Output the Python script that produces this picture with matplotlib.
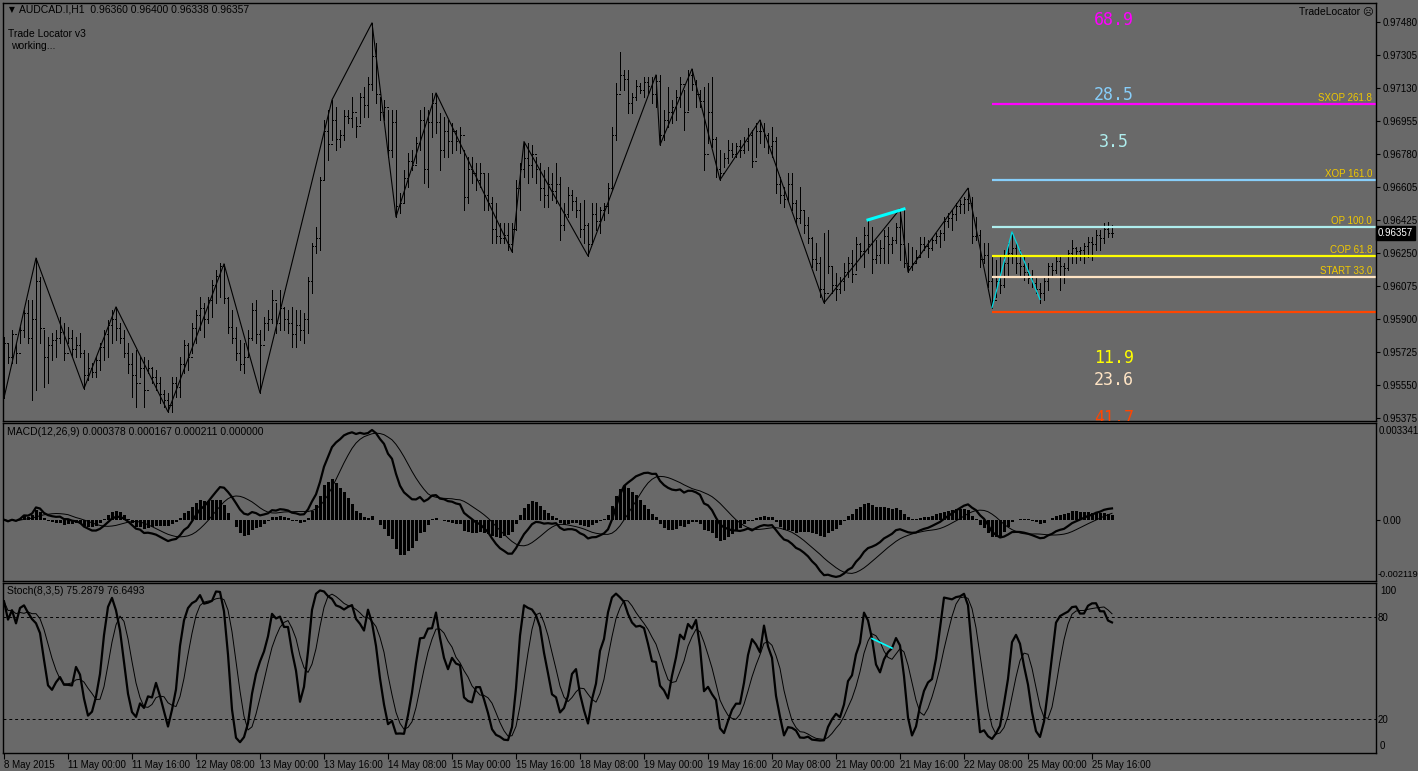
import matplotlib
matplotlib.use("Agg")
import matplotlib.pyplot as plt
import matplotlib.transforms as mtransforms
import numpy as np
import pandas as pd

# AUDCAD.I H1 bars from 8 May 2015 08:00, prices in points (0.00001) above 0.95000
HIGH_PTS = [
    805, 773, 842, 773, 858, 949, 1002, 1002, 1225, 1124,
    842, 805, 826, 842, 911, 879, 858, 842, 805, 826,
    736, 720, 666, 698, 773, 842, 895, 949, 965, 879,
    842, 773, 720, 736, 698, 698, 682, 645, 629, 592,
    523, 507, 592, 592, 698, 789, 773, 879, 949, 1018,
    986, 1018, 1108, 1162, 1199, 1194, 1018, 949, 858, 789,
    773, 842, 986, 1002, 842, 911, 949, 1055, 986, 1055,
    965, 949, 965, 949, 949, 933, 1124, 1305, 1390, 1657,
    1960, 2013, 2067, 2029, 1907, 2013, 2013, 2083, 1976, 2104,
    2136, 2189, 2477, 2370, 2083, 2067, 2013, 2013, 2013, 1571,
    1694, 1784, 1800, 1870, 2013, 2029, 2013, 2104, 2104, 1997,
    1976, 1960, 1944, 1907, 1923, 1800, 1763, 1763, 1731, 1731,
    1678, 1678, 1550, 1518, 1412, 1412, 1412, 1412, 1641, 1731,
    1845, 1838, 1827, 1763, 1731, 1694, 1710, 1678, 1731, 1657,
    1518, 1603, 1587, 1550, 1518, 1534, 1412, 1518, 1518, 1497,
    1518, 1625, 1923, 2157, 2322, 2226, 2226, 2104, 2173, 2157,
    2189, 2189, 2189, 2200, 2200, 2013, 2136, 2067, 2120, 2189,
    2120, 2226, 2232, 2173, 2120, 2136, 2157, 2189, 1870, 1800,
    1784, 1854, 1838, 1838, 1854, 1870, 1918, 1907, 1944, 1960,
    1944, 1891, 1923, 1870, 1657, 1603, 1678, 1678, 1534, 1603,
    1481, 1444, 1337, 1305, 1231, 1359, 1374, 1177, 1146, 1124,
    1199, 1231, 1268, 1337, 1305, 1390, 1428, 1390, 1321, 1321,
    1374, 1390, 1337, 1412, 1486, 1486, 1305, 1284, 1268, 1337,
    1337, 1321, 1337, 1359, 1374, 1444, 1465, 1481, 1518, 1534,
    1550, 1597, 1550, 1444, 1374, 1305, 1305, 1231, 1215, 1231,
    1268, 1305, 1364, 1305, 1268, 1231, 1199, 1162, 1124, 1092,
    1124, 1199, 1199, 1231, 1231, 1199, 1268, 1321, 1284, 1284,
    1305, 1337, 1337, 1374, 1374, 1412, 1418, 1400,
]
LOW_PTS = [
    480, 666, 666, 666, 773, 805, 773, 469, 523, 773,
    539, 560, 682, 698, 773, 682, 773, 698, 698, 698,
    530, 576, 592, 592, 629, 682, 698, 773, 789, 773,
    698, 613, 485, 432, 592, 432, 613, 560, 523, 453,
    432, 406, 406, 485, 485, 613, 629, 720, 773, 842,
    805, 879, 911, 986, 1018, 986, 826, 773, 682, 629,
    613, 698, 789, 773, 507, 789, 842, 879, 826, 842,
    842, 826, 752, 752, 789, 773, 826, 1039, 1252, 1268,
    1641, 1747, 1854, 1800, 1816, 1854, 1944, 1923, 1870, 1944,
    1976, 1976, 2120, 2051, 1960, 1960, 1763, 1763, 1444, 1465,
    1518, 1603, 1694, 1731, 1800, 1625, 1603, 1870, 1891, 1694,
    1763, 1763, 1784, 1800, 1784, 1481, 1518, 1625, 1587, 1603,
    1481, 1481, 1305, 1305, 1305, 1305, 1268, 1258, 1374, 1481,
    1657, 1625, 1657, 1625, 1534, 1497, 1497, 1534, 1518, 1321,
    1374, 1444, 1481, 1444, 1337, 1305, 1236, 1305, 1374, 1359,
    1428, 1465, 1587, 1854, 2120, 2120, 1997, 1997, 2067, 2104,
    2083, 2104, 2051, 2029, 1827, 1854, 1923, 1944, 1960, 2029,
    1907, 2013, 2120, 2029, 2029, 1694, 1838, 1816, 1657, 1641,
    1710, 1731, 1763, 1763, 1763, 1784, 1800, 1710, 1763, 1838,
    1816, 1784, 1763, 1571, 1518, 1497, 1534, 1481, 1412, 1412,
    1359, 1305, 1177, 1162, 1018, 986, 1146, 1039, 1002, 1039,
    1055, 1124, 1097, 1162, 1231, 1177, 1252, 1146, 1199, 1199,
    1199, 1199, 1252, 1305, 1215, 1177, 1151, 1162, 1199, 1231,
    1268, 1231, 1268, 1305, 1284, 1321, 1390, 1374, 1428, 1465,
    1465, 1481, 1305, 1321, 1177, 1199, 1071, 961, 1018, 1039,
    1071, 1124, 1199, 1146, 1124, 1108, 1092, 1071, 1039, 986,
    1002, 1055, 1124, 1146, 1055, 1092, 1162, 1199, 1199, 1215,
    1199, 1231, 1215, 1268, 1268, 1305, 1337, 1338,
]
CLOSE_PTS = [
    770, 700, 820, 720, 840, 930, 800, 900, 1100, 850,
    700, 760, 790, 800, 830, 720, 800, 740, 760, 720,
    600, 640, 620, 680, 750, 820, 870, 900, 850, 800,
    720, 660, 600, 560, 640, 520, 640, 590, 560, 500,
    470, 440, 560, 540, 660, 760, 700, 850, 920, 960,
    900, 1000, 1080, 1130, 1180, 1010, 860, 800, 720, 660,
    700, 800, 950, 820, 760, 880, 900, 1000, 880, 960,
    900, 880, 820, 870, 840, 900, 1100, 1290, 1330, 1640,
    1900, 1830, 1960, 1860, 1880, 1980, 1970, 2000, 1930, 2080,
    2040, 2150, 2300, 2100, 2000, 2030, 1800, 1950, 1500, 1520,
    1650, 1740, 1720, 1840, 1960, 1700, 1950, 2050, 1950, 1800,
    1900, 1850, 1900, 1850, 1880, 1550, 1700, 1680, 1640, 1680,
    1560, 1520, 1380, 1340, 1330, 1350, 1300, 1380, 1600, 1700,
    1760, 1720, 1780, 1700, 1600, 1560, 1620, 1580, 1620, 1400,
    1460, 1560, 1530, 1480, 1380, 1400, 1300, 1460, 1420, 1480,
    1500, 1600, 1880, 2100, 2200, 2180, 2050, 2080, 2140, 2120,
    2160, 2140, 2100, 2170, 1880, 1960, 2000, 2030, 2080, 2150,
    2000, 2200, 2150, 2100, 2060, 1780, 2000, 1860, 1700, 1680,
    1760, 1800, 1780, 1820, 1800, 1850, 1880, 1740, 1900, 1900,
    1880, 1820, 1850, 1620, 1560, 1540, 1620, 1520, 1440, 1480,
    1400, 1330, 1220, 1200, 1060, 1040, 1180, 1080, 1060, 1100,
    1150, 1200, 1140, 1300, 1260, 1350, 1300, 1220, 1240, 1280,
    1340, 1300, 1320, 1390, 1300, 1200, 1180, 1200, 1230, 1300,
    1290, 1280, 1320, 1340, 1360, 1420, 1440, 1460, 1500, 1510,
    1540, 1520, 1340, 1350, 1220, 1240, 1100, 1000, 1100, 1080,
    1200, 1250, 1280, 1200, 1180, 1150, 1120, 1090, 1060, 1040,
    1100, 1180, 1160, 1210, 1180, 1170, 1250, 1280, 1260, 1270,
    1290, 1310, 1300, 1350, 1330, 1380, 1360, 1357,
]
FIRST_OPEN_PTS = 700

# zigzag pivots (bar index, points)
ZIGZAG_BARS = [0, 8, 20, 28, 41, 55, 64, 82, 92, 98, 108, 127, 130, 146,
               163, 164, 172, 179, 189, 205, 224, 226, 241, 247]
ZIGZAG_PTS = [480, 1225, 530, 965, 406, 1194, 507, 2067, 2477, 1444, 2104, 1258,
              1845, 1236, 2200, 1827, 2232, 1641, 1960, 986, 1486, 1151, 1597, 961]
PATTERN_BARS = [247, 252, 259]
PATTERN_PTS = [961, 1364, 1005]
TREND_BARS = [216, 225]
TREND_PTS = [1428, 1486]
STOCH_TREND_BARS = [217, 222]

# Trade Locator levels
LEVEL_START_BAR = 247
LEVEL_NAMES = ["SXOP 261.8", "XOP 161.0", "OP 100.0", "COP 61.8", "START 33.0", ""]
LEVEL_PTS = [2045, 1641, 1392, 1236, 1126, 938]
LEVEL_COLORS = ["#ff00ff", "#87cefa", "#afeeee", "#ffff00", "#ffe4c4", "#ff4500"]
SCORE_TEXTS = ["68.9", "28.5", "3.5", "11.9", "23.6", "41.7"]
SCORE_PTS = [2490, 2093, 1843, 693, 576, 375]
SCORE_COLORS = ["#ff00ff", "#87cefa", "#afeeee", "#ffff00", "#ffe4c4", "#ff4500"]

PRICE_TICKS = [0.97480, 0.97305, 0.97130, 0.96955, 0.96780, 0.96605, 0.96425,
               0.96250, 0.96075, 0.95900, 0.95725, 0.95550, 0.95375]
TIME_TICK_BARS = [0, 16, 32, 48, 64, 80, 96, 112, 128, 144, 160, 176, 192, 208,
                  224, 240, 256, 272]
TIME_TICK_LABELS = ["8 May 2015", "11 May 00:00", "11 May 16:00", "12 May 08:00",
                    "13 May 00:00", "13 May 16:00", "14 May 08:00", "15 May 00:00",
                    "15 May 16:00", "18 May 08:00", "19 May 00:00", "19 May 16:00",
                    "20 May 08:00", "21 May 00:00", "21 May 16:00", "22 May 08:00",
                    "25 May 00:00", "25 May 16:00"]
LAST_PRICE = 0.96357


def to_price(pts):
    return 0.95 + np.asarray(pts, dtype=float) / 1e5


W, H = 1418, 771
BG = "#696969"
FS = 7
plt.rcParams["font.family"] = ["Liberation Sans", "DejaVu Sans"]

high = to_price(HIGH_PTS)
low = to_price(LOW_PTS)
close = to_price(CLOSE_PTS)
opens = np.r_[to_price([FIRST_OPEN_PTS]), close[:-1]]
bars = np.arange(len(close))

# indicators
cs = pd.Series(close)
macd = cs.ewm(span=12, adjust=False).mean() - cs.ewm(span=26, adjust=False).mean()
signal = macd.rolling(9, min_periods=1).mean()
osma = macd - signal
ll = pd.Series(low).rolling(8, min_periods=1).min()
hh = pd.Series(high).rolling(8, min_periods=1).max()
stoch_k = 100 * (cs - ll).rolling(3, min_periods=1).sum() / (hh - ll).rolling(3, min_periods=1).sum()
stoch_d = stoch_k.rolling(5, min_periods=1).mean()


def panel(top, bottom):
    left, right = 3, 1376
    return fig.add_axes([left / W, 1 - bottom / H, (right - left) / W, (bottom - top) / H])


fig = plt.figure(figsize=(W / 100, H / 100), dpi=100, facecolor=BG)
ax = panel(3, 421)
ax_macd = panel(423, 581)
ax_st = panel(583, 753)

x_left = -0.25
x_right = x_left + (1376 - 3) / 4
for a in (ax, ax_macd, ax_st):
    a.set_facecolor(BG)
    a.set_xlim(x_left, x_right)
    for s in a.spines.values():
        s.set_color("black")
        s.set_linewidth(1.0)
    a.tick_params(axis="x", bottom=False, labelbottom=False)
    a.yaxis.tick_right()
    a.tick_params(axis="y", direction="out", length=3, width=0.8, colors="black",
                  labelsize=FS, pad=1.5)

# price bars
lw = 0.7
ax.vlines(bars, low, high, color="black", lw=lw, antialiased=False)
ax.hlines(opens, bars - 0.35, bars, color="black", lw=lw, antialiased=False)
ax.hlines(close, bars, bars + 0.35, color="black", lw=lw, antialiased=False)
ax.plot(ZIGZAG_BARS, to_price(ZIGZAG_PTS), color="black", lw=0.8)
ax.plot(PATTERN_BARS, to_price(PATTERN_PTS), color="#00d8e0", lw=0.9)
ax.plot(TREND_BARS, to_price(TREND_PTS), color="#00ffff", lw=2.2)

for name, pts, col in zip(LEVEL_NAMES, LEVEL_PTS, LEVEL_COLORS):
    p = to_price(pts)
    ax.hlines(p, LEVEL_START_BAR, x_right, color=col, lw=1.6)
    if name:
        ax.text(x_right - 1, p + 0.00004, name, color="#f0c800", fontsize=FS,
                ha="right", va="bottom")

for txt, pts, col in zip(SCORE_TEXTS, SCORE_PTS, SCORE_COLORS):
    ax.text(len(close) - 0.5, to_price(pts), txt, color=col, fontsize=12,
            family="DejaVu Sans Mono", ha="center", va="center", clip_on=True)

ax.set_ylim(to_price(357.3), to_price(2582.7))
ax.set_yticks(PRICE_TICKS)
ax.set_yticklabels([f"{v:.5f}" for v in PRICE_TICKS])

trans = mtransforms.blended_transform_factory(ax.transAxes, ax.transData)
ax.text(1.0015, LAST_PRICE, f"{LAST_PRICE:.5f}", transform=trans, color="white",
        fontsize=FS, va="center", ha="left",
        bbox=dict(boxstyle="square,pad=0.2", fc="black", ec="black"))

ax.text(0.004, 0.985, "\u25bc", transform=ax.transAxes, fontsize=5.5,
        family="DejaVu Sans", va="center", ha="left")
ax.text(0.0115, 0.985, "AUDCAD.I,H1  0.96360 0.96400 0.96338 0.96357",
        transform=ax.transAxes, fontsize=7.5, va="center", ha="left")
ax.text(0.0035, 0.927, "Trade Locator v3", transform=ax.transAxes, fontsize=7.5,
        va="center", ha="left")
ax.text(0.0055, 0.898, "working...", transform=ax.transAxes, fontsize=7.5,
        va="center", ha="left")
ax.text(0.9985, 0.98, "TradeLocator \u2639", transform=ax.transAxes, fontsize=7.5,
        va="center", ha="right", family=["Liberation Sans", "DejaVu Sans"])

# MACD panel
ax_macd.bar(bars, osma, width=0.75, color="black", lw=0)
ax_macd.plot(bars, macd, color="black", lw=1.6)
ax_macd.plot(bars, signal, color="black", lw=0.7)
ax_macd.set_ylim(-0.002119, 0.003341)
ax_macd.set_yticks([0.0])
ax_macd.set_yticklabels(["0.00"])
ax_macd.text(1.002, 0.95, "0.003341", transform=ax_macd.transAxes, fontsize=FS,
             va="center", ha="left")
ax_macd.text(1.001, 0.04, "-0.002119", transform=ax_macd.transAxes, fontsize=6.6,
             va="center", ha="left")
ax_macd.text(0.003, 0.945, "MACD(12,26,9) 0.000378 0.000167 0.000211 0.000000",
             transform=ax_macd.transAxes, fontsize=7.5, va="center", ha="left")

# Stochastic panel
ax_st.plot(bars, stoch_k, color="black", lw=1.6)
ax_st.plot(bars, stoch_d, color="black", lw=0.7)
ax_st.axhline(80, color="black", lw=0.7, ls=(0, (3, 3)))
ax_st.axhline(20, color="black", lw=0.7, ls=(0, (3, 3)))
ax_st.plot(STOCH_TREND_BARS, stoch_k.iloc[STOCH_TREND_BARS], color="#00ffff", lw=1.2)
ax_st.set_ylim(0, 100)
ax_st.set_yticks([20, 80])
ax_st.set_yticklabels(["20", "80"])
ax_st.tick_params(axis="y", length=0, pad=1)
ax_st.text(1.003, 0.955, "100", transform=ax_st.transAxes, fontsize=FS,
           va="center", ha="left")
ax_st.text(1.003, 0.04, "0", transform=ax_st.transAxes, fontsize=FS,
           va="center", ha="left")
ax_st.text(0.003, 0.95, "Stoch(8,3,5) 75.2879 76.6493", transform=ax_st.transAxes,
           fontsize=7.5, va="center", ha="left")

ax_st.set_xticks(TIME_TICK_BARS)
ax_st.set_xticklabels(TIME_TICK_LABELS)
ax_st.tick_params(axis="x", bottom=True, labelbottom=True, direction="out", length=4,
                  width=0.8, colors="black", labelsize=FS, pad=1)
for lab in ax_st.get_xticklabels():
    lab.set_horizontalalignment("left")

fig.savefig("out.png", dpi=100, facecolor=BG)
